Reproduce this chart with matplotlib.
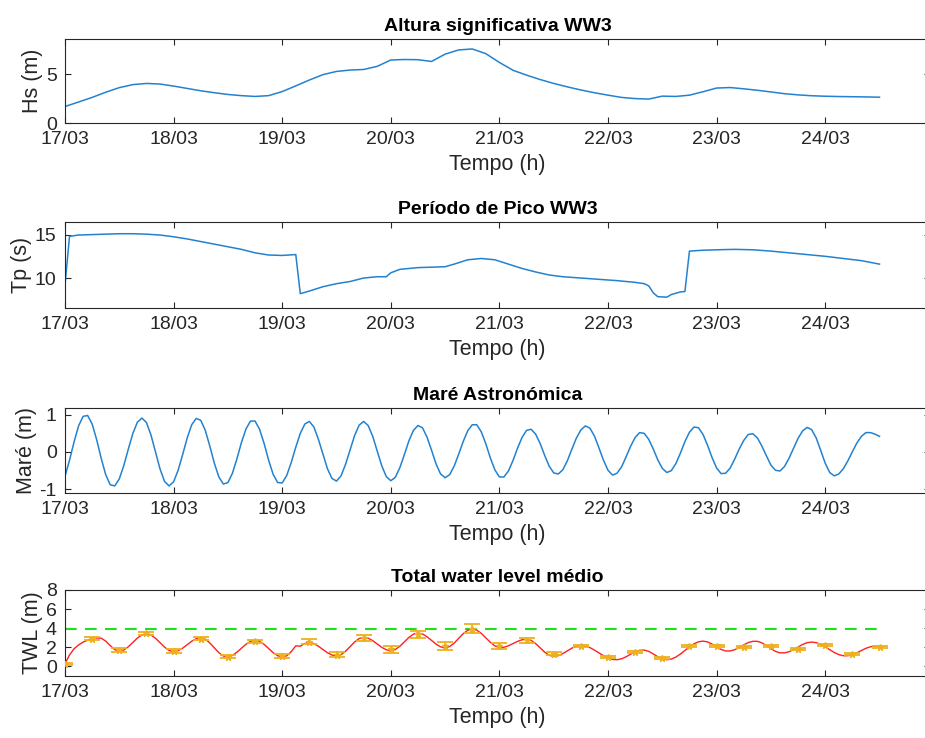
import numpy as np
import matplotlib
matplotlib.use("Agg")
import matplotlib.pyplot as plt

plt.rcParams['font.family'] = ['Liberation Sans', 'DejaVu Sans']
plt.rcParams['axes.unicode_minus'] = False

# --- data (hours since 17/03 00:00) ---
day_ticks = [0, 24, 48, 72, 96, 120, 144, 168]
day_labels = ['17/03', '18/03', '19/03', '20/03', '21/03', '22/03', '23/03', '24/03']

hs_hours = list(range(0, 181, 3))
hs = [1.69, 2.15, 2.62, 3.15, 3.62, 3.93, 4.05, 3.99, 3.78, 3.54, 3.30, 3.10,
      2.92, 2.80, 2.72, 2.80, 3.22, 3.80, 4.40, 4.95, 5.28, 5.42, 5.48, 5.80,
      6.45, 6.50, 6.48, 6.30, 7.05, 7.48, 7.58, 7.10, 6.20, 5.40, 4.90, 4.45,
      4.05, 3.70, 3.38, 3.10, 2.85, 2.62, 2.50, 2.45, 2.75, 2.72, 2.85, 3.20,
      3.58, 3.63, 3.50, 3.35, 3.18, 3.00, 2.88, 2.79, 2.74, 2.71, 2.69, 2.67,
      2.64]

tp_hours = [0, 1, 3, 6, 9, 12, 15, 18, 21, 24, 27, 30, 33, 36, 39, 42, 45, 48,
            51, 52, 54, 57, 60, 63, 66, 69, 71, 72, 74, 78, 81, 84, 86, 89, 92,
            95, 98, 101, 104, 107, 110, 114, 118, 122, 126, 128, 129, 130, 131,
            133, 134, 136, 137, 138, 141, 144, 148, 152, 156, 160, 164, 168,
            172, 176, 180]
tp = [9.2, 14.8, 14.95, 15.0, 15.05, 15.1, 15.1, 15.05, 14.95, 14.75, 14.5,
      14.2, 13.9, 13.6, 13.3, 12.9, 12.65, 12.6, 12.7, 8.2, 8.5, 9.0, 9.35,
      9.6, 10.0, 10.15, 10.15, 10.6, 11.0, 11.2, 11.25, 11.3, 11.6, 12.1,
      12.25, 12.1, 11.6, 11.1, 10.7, 10.35, 10.15, 10.0, 9.85, 9.7, 9.5, 9.35,
      9.1, 8.3, 7.85, 7.8, 8.1, 8.4, 8.45, 13.1, 13.2, 13.25, 13.3, 13.25,
      13.1, 12.9, 12.7, 12.5, 12.25, 12.0, 11.6]

tide = [-0.65, -0.22, 0.27, 0.70, 0.955,
        0.98, 0.75, 0.33, -0.17, -0.61, -0.88,
        -0.91, -0.72, -0.36, 0.08, 0.50, 0.80, 0.91,
        0.79, 0.455, 0.00, -0.455, -0.79, -0.91,
        -0.80, -0.49, -0.07, 0.375, 0.73, 0.90,
        0.85, 0.58, 0.16, -0.30, -0.67, -0.86,
        -0.82, -0.57, -0.18, 0.26, 0.62, 0.83,
        0.83, 0.61, 0.23, -0.22, -0.60, -0.82,
        -0.83, -0.63, -0.28, 0.13, 0.50, 0.75,
        0.82, 0.67, 0.34, -0.06, -0.45, -0.71,
        -0.78, -0.64, -0.33, 0.06, 0.44, 0.72, 0.82,
        0.71, 0.42, 0.025, -0.37, -0.66, -0.77,
        -0.68, -0.42, -0.07, 0.30, 0.58, 0.71,
        0.65, 0.40, 0.05, -0.32, -0.59, -0.69,
        -0.61, -0.38, -0.06, 0.28, 0.57, 0.73,
        0.73, 0.54, 0.22, -0.16, -0.48, -0.67,
        -0.67, -0.51, -0.23, 0.10, 0.39, 0.58,
        0.61, 0.48, 0.23, -0.09, -0.38, -0.56,
        -0.59, -0.48, -0.24, 0.07, 0.37, 0.59, 0.70,
        0.64, 0.43, 0.11, -0.22, -0.49, -0.62,
        -0.57, -0.40, -0.13, 0.155, 0.39, 0.52,
        0.50, 0.34, 0.08, -0.21, -0.44, -0.55,
        -0.50, -0.31, -0.03, 0.28, 0.53, 0.67,
        0.65, 0.47, 0.18, -0.15, -0.43, -0.58,
        -0.57, -0.43, -0.19, 0.08, 0.31, 0.47,
        0.49, 0.38, 0.16, -0.10, -0.35, -0.49,
        -0.51, -0.39, -0.17, 0.10, 0.365, 0.565, 0.66,
        0.60, 0.38, 0.045, -0.30, -0.55, -0.64,
        -0.59, -0.45, -0.24, 0.006, 0.24, 0.42, 0.52, 0.52, 0.48, 0.42]

twl = [0.3, 1.2, 1.85, 2.25, 2.55, 2.75, 2.9, 2.98,
       2.96, 2.65, 2.18, 1.76, 1.6,
       1.72, 2.06, 2.51, 2.97, 3.30, 3.42,
       3.29, 2.95, 2.49, 2.02, 1.67, 1.55,
       1.65, 1.91, 2.28, 2.64, 2.90, 3.0,
       2.86, 2.46, 1.95, 1.44, 1.09, 1.0,
       1.16, 1.49, 1.91, 2.32, 2.63, 2.74,
       2.62, 2.31, 1.87, 1.44, 1.12, 1.0,
       1.11, 1.55, 2.15, 2.12, 2.40, 2.52,
       2.39, 2.12, 1.77, 1.44, 1.19, 1.1,
       1.23, 1.59, 2.08, 2.56, 2.92, 3.05,
       2.96, 2.70, 2.35, 2.0, 1.74, 1.65,
       1.77, 2.11, 2.58, 3.04, 3.38, 3.5,
       3.40, 3.11, 2.73, 2.34, 2.05, 1.95,
       2.08, 2.44, 2.94, 3.43, 3.79, 3.92,
       3.80, 3.46, 2.99, 2.52, 2.15, 1.97,
       2.01, 2.16, 2.39, 2.62, 2.79, 2.85,
       2.73, 2.40, 1.95, 1.50, 1.17, 1.05,
       1.13, 1.34, 1.63, 1.91, 2.12, 2.2,
       2.14, 1.97, 1.71, 1.42, 1.13, 0.89, 0.74, 0.705,
       0.80, 1.01, 1.28, 1.53, 1.69, 1.71,
       1.58, 1.31, 1.02, 0.79, 0.7,
       0.77, 0.98, 1.30, 1.68, 2.05, 2.37, 2.58, 2.65,
       2.57, 2.34, 2.05, 1.78, 1.62,
       1.62, 1.75, 1.99, 2.26, 2.50, 2.63,
       2.63, 2.47, 2.19, 1.86, 1.58, 1.42,
       1.42, 1.54, 1.77, 2.04, 2.30, 2.49, 2.55,
       2.49, 2.31, 2.05, 1.75, 1.46, 1.24, 1.12,
       1.12, 1.23, 1.43, 1.67, 1.90, 2.06, 2.12, 2.11]

bar_hours = list(range(0, 181, 6))
bar_mean = [0.28, 2.9, 1.7, 3.45, 1.6, 2.9, 1.0, 2.65, 1.1, 2.6, 1.25, 3.0,
            1.8, 3.35, 2.15, 3.95, 2.15, 2.75, 1.35, 2.15, 1.0, 1.55, 0.9,
            2.15, 2.15, 2.05, 2.15, 1.8, 2.2, 1.35, 2.05]
bar_err = [0.1, 0.15, 0.2, 0.2, 0.2, 0.15, 0.15, 0.15, 0.25, 0.25, 0.3, 0.3,
           0.35, 0.35, 0.4, 0.45, 0.35, 0.25, 0.2, 0.1, 0.1, 0.1, 0.1, 0.1,
           0.1, 0.1, 0.1, 0.1, 0.1, 0.1, 0.1]
threshold = 3.95

# --- figure ---
fig = plt.figure(figsize=(9.25, 7.38), dpi=100)
left, width = 65 / 925, 865 / 925
tops = [39, 222, 408, 590]
heights = [84, 86, 85, 86]
axes = [fig.add_axes([left, 1 - (t + h) / 738, width, h / 738])
        for t, h in zip(tops, heights)]

grey = '#262626'
blue = '#2282d0'

ax1, ax2, ax3, ax4 = axes
ax1.plot(hs_hours, hs, color=blue, lw=1.1)
ax1.set_ylim(0, 8.6)
ax1.set_yticks([0, 5])
ax1.set_ylabel('Hs (m)')
ax1.set_title('Altura significativa WW3')

ax2.plot(tp_hours, tp, color=blue, lw=1.1)
ax2.set_ylim(6.55, 16.45)
ax2.set_yticks([10, 15])
ax2.set_ylabel('Tp (s)')
ax2.set_title('Período de Pico WW3')

ax3.plot(np.arange(len(tide)), tide, color=blue, lw=1.1)
ax3.set_ylim(-1.1, 1.18)
ax3.set_yticks([-1, 0, 1])
ax3.set_ylabel('Maré (m)')
ax3.set_title('Maré Astronómica')

ax4.plot(np.arange(len(twl)), twl, color='#ff2020', lw=1.0, zorder=3)
ax4.errorbar(bar_hours, bar_mean, yerr=bar_err, fmt='*', color='#edb120',
             ms=5, capsize=6, elinewidth=1.3, capthick=1.3, zorder=4)
ax4.plot([0, len(twl) - 1], [threshold, threshold], color='#22dd22', lw=1.5,
         dashes=(5.6, 4.0), zorder=2)
ax4.set_ylim(-1, 8)
ax4.set_yticks([0, 2, 4, 6, 8])
ax4.set_ylabel('TWL (m)')
ax4.set_title('Total water level médio')

for ax in axes:
    ax.set_xlim(0, 7.965 * 24)
    ax.set_xticks(day_ticks)
    ax.set_xticklabels(day_labels)
    ax.set_xlabel('Tempo (h)', fontsize=15.5, color=grey, labelpad=4)
    ax.yaxis.label.set_size(15.5)
    ax.yaxis.label.set_color(grey)
    ax.title.set_fontsize(14)
    ax.title.set_fontweight('bold')
    ax.tick_params(direction='in', top=True, right=True, length=4.5,
                   width=0.8, colors=grey, labelsize=14, pad=6)
    ax.yaxis.labelpad = 2
    for s in ax.spines.values():
        s.set_color(grey)
        s.set_linewidth(0.8)

fig.savefig('out.png', dpi=100, facecolor='white')
